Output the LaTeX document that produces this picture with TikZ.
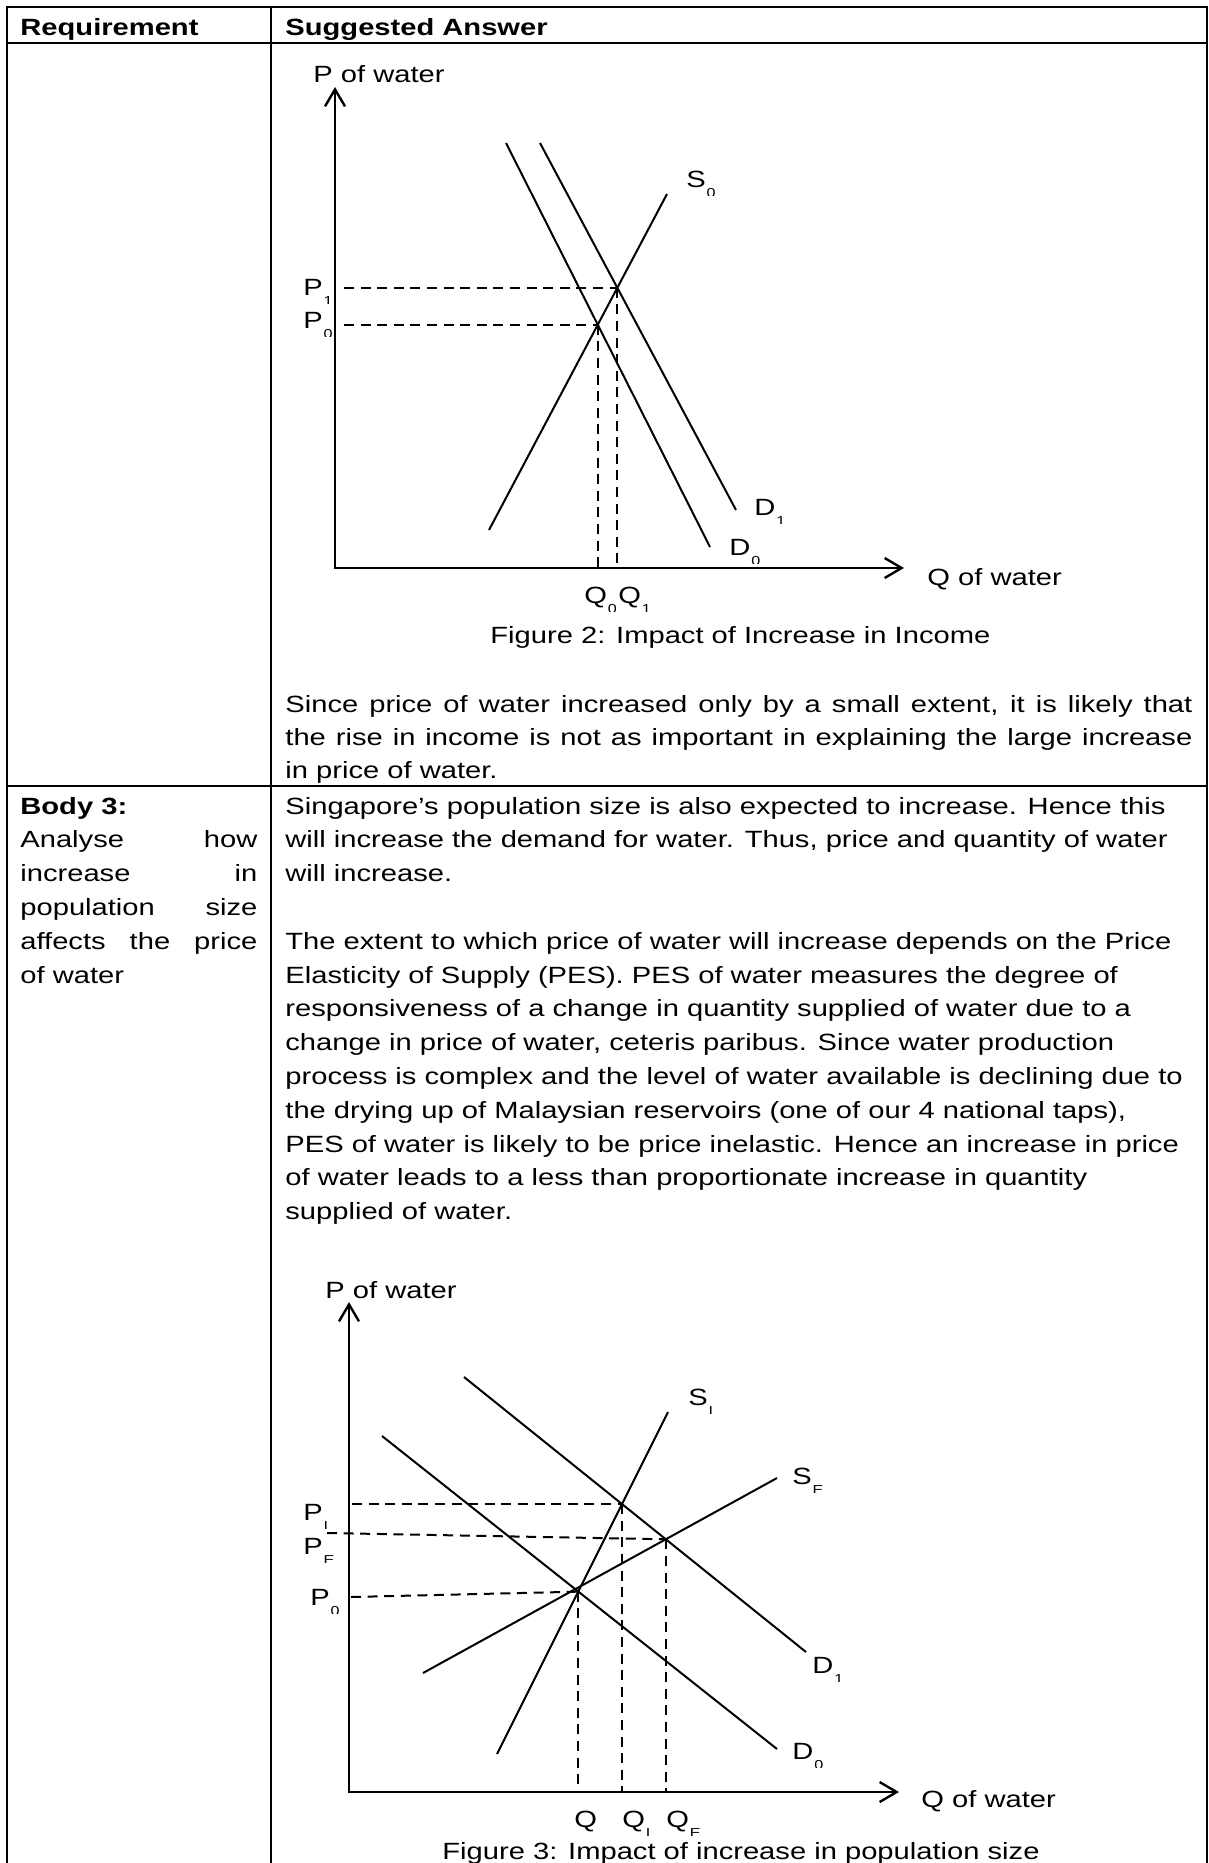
\documentclass[tikz,border=0pt]{standalone}
\usepackage{fontspec}
\setmainfont[FakeStretch=1.24]{Liberation Sans}
\usetikzlibrary{arrows.meta}
\newcommand{\cutsub}[2]{%
  \begin{scope}
    \clip ([yshift=1pt]#1.base east) rectangle ([xshift=8pt,yshift=-4.2pt]#1.base east);
    \node[subtext] (#1-sub) at ([yshift=-0.4pt]#1.base east) {#2};
  \end{scope}}

\begin{document}
\begin{tikzpicture}[
    x=0.5pt, y=-0.5pt,
    body/.style={anchor=base west, inner sep=0pt, font=\fontsize{11.75}{16.9}\selectfont},
    head/.style={body, font=\fontsize{11.75}{16.9}\selectfont\bfseries},
    subtext/.style={anchor=north west, inner sep=0pt, font=\fontsize{6.5}{7}\selectfont},
    rule/.style={line width=1pt},
    thin rule/.style={line width=0.7pt},
    axes/.style={line width=1.2pt,
      {Straight Barb[length=8.5pt,width=10pt]}-{Straight Barb[length=8.5pt,width=10pt]}},
    curve/.style={line width=1pt},
    guide/.style={line width=1pt, dash pattern=on 5pt off 3.3pt},
  ]
  \useasboundingbox (0,0) rectangle (1209,1863);

  % table rules
  \draw[rule] (7,1863) -- (7,7) -- (1206.5,7) -- (1206.5,1863);
  \draw[rule] (7,43) -- (1206.5,43);
  \draw[thin rule] (271,7) -- (271,1863);
  \draw[rule] (7,786) -- (1206.5,786);

  \node[head] (reqHead) at (20,35) {Requirement};
  \node[head] (ansHead) at (285,35) {Suggested Answer};

  % Figure 2: income
  \coordinate (incO) at (335,568);
  \coordinate (incY) at (335,87);
  \coordinate (incX) at (904,568);
  \draw[axes] (incY) -- (incO) -- (incX);

  \coordinate (incD0a) at (506,143);
  \coordinate (incD0b) at (710,547);
  \coordinate (incD1a) at (540,143);
  \coordinate (incD1b) at (736,510);
  \coordinate (incS0a) at (489,530);
  \coordinate (incS0b) at (667,194);
  \draw[curve] (incD0a) -- (incD0b);
  \draw[curve] (incD1a) -- (incD1b);
  \draw[curve] (incS0a) -- (incS0b);

  \coordinate (incEq0) at (intersection cs: first line={(incD0a)--(incD0b)}, second line={(incS0a)--(incS0b)});
  \coordinate (incEq1) at (intersection cs: first line={(incD1a)--(incD1b)}, second line={(incS0a)--(incS0b)});
  \draw[guide, shorten <=4.5pt] (incO |- incEq1) -- (incEq1);
  \draw[guide, shorten <=4.5pt] (incO |- incEq0) -- (incEq0);
  \draw[guide] (incEq0) -- (incEq0 |- incO);
  \draw[guide] (incEq1) -- (incEq1 |- incO);

  \node[body] (incPaxis) at (313,82) {P of water};
  \node[body] (incQaxis) at (927,585) {Q of water};
  \node[body] (incP1) at (303,295) {P};
  \cutsub{incP1}{1}
  \node[body] (incP0) at (303,328) {P};
  \cutsub{incP0}{0}
  \node[body] (incS0) at (686,187) {S};
  \cutsub{incS0}{0}
  \node[body] (incD1) at (754,515) {D};
  \cutsub{incD1}{1}
  \node[body] (incD0) at (729,555) {D};
  \cutsub{incD0}{0}
  \node[body] (incQ0) at (584,603) {Q};
  \cutsub{incQ0}{0}
  \node[body] (incQ1) at (618,603) {Q};
  \cutsub{incQ1}{1}
  \node[body] (incCap) at (490,643) {Figure 2: Impact of Increase in Income};

  \node[body] (incNote1) at (285,712.5)
    {\makebox[453.5pt][s]{Since price of water increased only by a small extent, it is likely that}};
  \node[body] (incNote2) at (285,745.3)
    {\makebox[453.5pt][s]{the rise in income is not as important in explaining the large increase}};
  \node[body] (incNote3) at (285,778) {in price of water.};

  % Body 3: requirement column
  \node[head] (popHead) at (20,814) {Body 3:};
  \node[body] (popReq1) at (20,847.8) {\makebox[118.5pt][s]{Analyse how}};
  \node[body] (popReq2) at (20,881.6) {\makebox[118.5pt][s]{increase in}};
  \node[body] (popReq3) at (20,915.4) {\makebox[118.5pt][s]{population size}};
  \node[body] (popReq4) at (20,949.2) {\makebox[118.5pt][s]{affects the price}};
  \node[body] (popReq5) at (20,983) {of water};

  % Body 3: answer column
  \node[body] (popAns1) at (285,814) {Singapore’s population size is also expected to increase. Hence this};
  \node[body] (popAns2) at (285,847.8) {will increase the demand for water. Thus, price and quantity of water};
  \node[body] (popAns3) at (285,881.6) {will increase.};
  \node[body] (popAns4) at (285,949.2) {The extent to which price of water will increase depends on the Price};
  \node[body] (popAns5) at (285,983) {Elasticity of Supply (PES). PES of water measures the degree of};
  \node[body] (popAns6) at (285,1016.8) {responsiveness of a change in quantity supplied of water due to a};
  \node[body] (popAns7) at (285,1050.6) {change in price of water, ceteris paribus. Since water production};
  \node[body] (popAns8) at (285,1084.4) {process is complex and the level of water available is declining due to};
  \node[body] (popAns9) at (285,1118.2) {the drying up of Malaysian reservoirs (one of our 4 national taps),};
  \node[body] (popAns10) at (285,1152) {PES of water is likely to be price inelastic. Hence an increase in price};
  \node[body] (popAns11) at (285,1185.8) {of water leads to a less than proportionate increase in quantity};
  \node[body] (popAns12) at (285,1219.6) {supplied of water.};

  % Figure 3: population
  \coordinate (popO) at (349,1792);
  \coordinate (popY) at (349,1302);
  \coordinate (popX) at (899,1792);
  \draw[axes] (popY) -- (popO) -- (popX);

  \coordinate (popD1a) at (464,1377);
  \coordinate (popD1b) at (806,1652);
  \coordinate (popD0a) at (382,1436);
  \coordinate (popD0b) at (777,1749);
  \coordinate (popSIa) at (497,1754);
  \coordinate (popSIb) at (668,1412);
  \coordinate (popSEa) at (423,1673);
  \coordinate (popSEb) at (777,1478);
  \draw[curve] (popD1a) -- (popD1b);
  \draw[curve] (popD0a) -- (popD0b);
  \draw[curve] (popSIa) -- (popSIb);
  \draw[curve] (popSEa) -- (popSEb);

  \coordinate (popEq0) at (intersection cs: first line={(popD0a)--(popD0b)}, second line={(popSIa)--(popSIb)});
  \coordinate (popEqI) at (intersection cs: first line={(popD1a)--(popD1b)}, second line={(popSIa)--(popSIb)});
  \coordinate (popEqE) at (intersection cs: first line={(popD1a)--(popD1b)}, second line={(popSEa)--(popSEb)});
  \coordinate (popPEstart) at (327,1533);
  \coordinate (popP0start) at (351,1597);
  \draw[guide, shorten <=1.5pt] (popO |- popEqI) -- (popEqI);
  \draw[guide] (popPEstart) -- (popEqE);
  \draw[guide] (popP0start) -- (popEq0);
  \draw[guide] (popEq0) -- (popEq0 |- popO);
  \draw[guide] (popEqI) -- (popEqI |- popO);
  \draw[guide] (popEqE) -- (popEqE |- popO);

  \node[body] (popPaxis) at (325,1298) {P of water};
  \node[body] (popQaxis) at (921,1807) {Q of water};
  \node[body] (popPI) at (303,1520) {P};
  \cutsub{popPI}{I}
  \node[body] (popPE) at (303,1554) {P};
  \cutsub{popPE}{E}
  \node[body] (popP0) at (310,1605) {P};
  \cutsub{popP0}{0}
  \node[body] (popSI) at (688,1405) {S};
  \cutsub{popSI}{I}
  \node[body] (popSE) at (792,1484) {S};
  \cutsub{popSE}{E}
  \node[body] (popD1) at (812,1673) {D};
  \cutsub{popD1}{1}
  \node[body] (popD0) at (792,1759) {D};
  \cutsub{popD0}{0}
  \node[body] (popQ0) at (574,1827) {Q};
  \node[body] (popQI) at (622,1827) {Q};
  \cutsub{popQI}{I}
  \node[body] (popQE) at (666,1827) {Q};
  \cutsub{popQE}{E}
  \node[body] (popCap) at (442,1859) {Figure 3: Impact of increase in population size};
\end{tikzpicture}
\end{document}
